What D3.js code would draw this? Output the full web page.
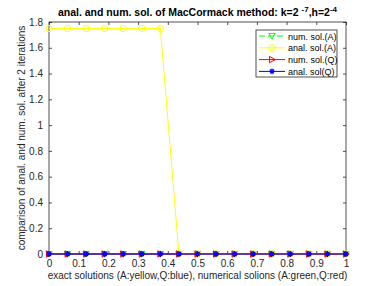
<!DOCTYPE html>
<html>
<head>
<meta charset="utf-8">
<script src="https://cdn.jsdelivr.net/npm/d3@7"></script>
<style>
  body { margin: 0; background: #fff; }
  text { font-family: "Liberation Sans", Arial, sans-serif; }
</style>
</head>
<body>
<div id="vis"></div>
<script>
var xs = [0, 0.0625, 0.125, 0.1875, 0.25, 0.3125, 0.375, 0.4375, 0.5, 0.5625, 0.625, 0.6875, 0.75, 0.8125, 0.875, 0.9375, 1];
var numA = [0, 0, 0, 0, 0, 0, 0, 0, 0, 0, 0, 0, 0, 0, 0, 0, 0];
var analA = [1.75, 1.75, 1.75, 1.75, 1.75, 1.75, 1.75, 0, 0, 0, 0, 0, 0, 0, 0, 0, 0];
var numQ = [0, 0, 0, 0, 0, 0, 0, 0, 0, 0, 0, 0, 0, 0, 0, 0, 0];
var analQ = [0, 0, 0, 0, 0, 0, 0, 0, 0, 0, 0, 0, 0, 0, 0, 0, 0];
var xTicks = [0, 0.1, 0.2, 0.3, 0.4, 0.5, 0.6, 0.7, 0.8, 0.9, 1];
var yTicks = [0, 0.2, 0.4, 0.6, 0.8, 1, 1.2, 1.4, 1.6, 1.8];
var seriesNames = ["num. sol.(A)", "anal. sol.(A)", "num. sol.(Q)", "anal. sol(Q)"];

var W = 382, H = 286;
var margin = {top: 22, right: 36, bottom: 32, left: 49},
    width = W - margin.left - margin.right,
    height = H - margin.top - margin.bottom;

var x = d3.scaleLinear().domain([0, 1]).range([0, width]);
var y = d3.scaleLinear().domain([0, 1.8]).range([height, 0]);

var svg = d3.select("#vis").append("svg")
    .attr("width", W).attr("height", H);

var g = svg.append("g")
    .attr("transform", "translate(" + margin.left + "," + margin.top + ")");

var axisColor = "#262626";

// series definitions
var series = [
  {name: seriesNames[0], vals: numA, color: "#00ff00", dash: "6,3", marker: "tridown"},
  {name: seriesNames[1], vals: analA, color: "#ffff00", dash: null, marker: "circle"},
  {name: seriesNames[2], vals: numQ, color: "#ff0000", dash: null, marker: "triright"},
  {name: seriesNames[3], vals: analQ, color: "#0000ff", dash: null, marker: "star"}
];

function drawMarker(sel, type, color, cx, cy) {
  var r = 3.2;
  if (type === "circle") {
    sel.append("circle").attr("cx", cx).attr("cy", cy).attr("r", r)
      .attr("fill", "none").attr("stroke", color).attr("stroke-width", 1);
  } else if (type === "tridown") {
    sel.append("path")
      .attr("d", "M" + (cx - r) + "," + (cy - r * 0.8) + "L" + (cx + r) + "," + (cy - r * 0.8) + "L" + cx + "," + (cy + r) + "Z")
      .attr("fill", "none").attr("stroke", color).attr("stroke-width", 1);
  } else if (type === "triright") {
    sel.append("path")
      .attr("d", "M" + (cx - r * 0.8) + "," + (cy - r) + "L" + (cx + r) + "," + cy + "L" + (cx - r * 0.8) + "," + (cy + r) + "Z")
      .attr("fill", "none").attr("stroke", color).attr("stroke-width", 1);
  } else if (type === "star") {
    var s = r * 0.9;
    sel.append("path")
      .attr("d", "M" + (cx - s) + "," + cy + "L" + (cx + s) + "," + cy +
                 "M" + cx + "," + (cy - s) + "L" + cx + "," + (cy + s) +
                 "M" + (cx - s * 0.7) + "," + (cy - s * 0.7) + "L" + (cx + s * 0.7) + "," + (cy + s * 0.7) +
                 "M" + (cx - s * 0.7) + "," + (cy + s * 0.7) + "L" + (cx + s * 0.7) + "," + (cy - s * 0.7))
      .attr("fill", "none").attr("stroke", color).attr("stroke-width", 1.2);
  }
}

var line = d3.line()
    .x(function(d, i) { return x(xs[i]); })
    .y(function(d) { return y(d); });

// axes box with ticks
var xAxisB = d3.axisBottom(x).tickValues(xTicks).tickSize(-3).tickPadding(6)
    .tickFormat(function(d) { return d3.format("")(+d.toFixed(1)); });
var xAxisT = d3.axisTop(x).tickValues(xTicks).tickSize(-3).tickFormat("");
var yAxisL = d3.axisLeft(y).tickValues(yTicks).tickSize(-3).tickPadding(6)
    .tickFormat(function(d) { return d3.format("")(+d.toFixed(1)); });
var yAxisR = d3.axisRight(y).tickValues(yTicks).tickSize(-3).tickFormat("");

function styleAxis(a) {
  a.select(".domain").attr("stroke", axisColor).attr("stroke-width", 0.8);
  a.selectAll(".tick line").attr("stroke", axisColor).attr("stroke-width", 0.8);
  a.selectAll(".tick text").attr("fill", axisColor).style("font-size", "10px")
    .style("font-family", "'Liberation Sans', Arial, sans-serif");
}

var gx = g.append("g").attr("transform", "translate(0," + height + ")").call(xAxisB);
gx.call(styleAxis);
var gxt = g.append("g").call(xAxisT);
gxt.call(styleAxis);
var gy = g.append("g").call(yAxisL);
gy.call(styleAxis);
var gyr = g.append("g").attr("transform", "translate(" + width + ",0)").call(yAxisR);
gyr.call(styleAxis);
g.selectAll(".domain").attr("d", null);
g.append("rect").attr("x", 0).attr("y", 0).attr("width", width).attr("height", height)
  .attr("fill", "none").attr("stroke", axisColor).attr("stroke-width", 0.8);

// series lines and markers
series.forEach(function(s) {
  var sg = g.append("g");
  sg.append("path").datum(s.vals)
    .attr("d", line)
    .attr("fill", "none")
    .attr("stroke", s.color)
    .attr("stroke-width", 1)
    .attr("stroke-dasharray", s.dash);
  s.vals.forEach(function(v, i) {
    drawMarker(sg, s.marker, s.color, x(xs[i]), y(v));
  });
});

// title
var title = svg.append("text")
    .attr("x", margin.left + width / 2)
    .attr("y", 16)
    .attr("text-anchor", "middle")
    .style("font-size", "10.5px")
    .style("font-weight", "bold")
    .attr("fill", "#000");
title.append("tspan").text("anal. and num. sol. of MacCormack method: k=2 ");
title.append("tspan").attr("dy", -4).style("font-size", "8px").text("-7");
title.append("tspan").attr("dy", 4).text(",h=2");
title.append("tspan").attr("dy", -4).style("font-size", "8px").text("-4");

// axis labels
svg.append("text")
    .attr("x", margin.left + width / 2)
    .attr("y", 279)
    .attr("text-anchor", "middle")
    .style("font-size", "10px")
    .attr("fill", axisColor)
    .text("exact solutions (A:yellow,Q:blue), numerical solions (A:green,Q:red)");

svg.append("text")
    .attr("transform", "translate(25," + (margin.top + height / 2) + ") rotate(-90)")
    .attr("text-anchor", "middle")
    .style("font-size", "10px")
    .attr("fill", axisColor)
    .text("comparison of anal. and num. sol. after 2 iterations");

// legend
var lg = svg.append("g").attr("transform", "translate(256,30)");
lg.append("rect").attr("x", 0).attr("y", 0).attr("width", 81).attr("height", 47)
  .attr("fill", "#fff").attr("stroke", axisColor).attr("stroke-width", 0.8);
series.forEach(function(s, i) {
  var ly = 6 + i * 11.8;
  lg.append("line").attr("x1", 3).attr("x2", 29).attr("y1", ly).attr("y2", ly)
    .attr("stroke", s.color).attr("stroke-width", 1).attr("stroke-dasharray", s.dash);
  drawMarker(lg, s.marker, s.color, 16, ly);
  lg.append("text").attr("x", 32).attr("y", ly + 3.5)
    .style("font-size", "9px").attr("fill", "#000").text(s.name);
});
</script>
</body>
</html>
